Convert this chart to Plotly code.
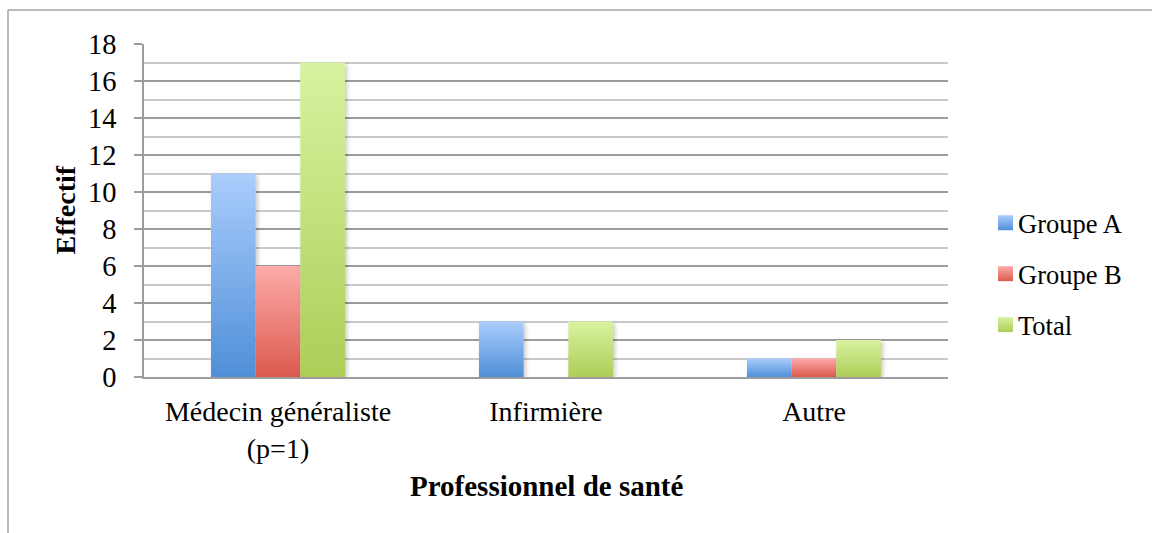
import plotly.graph_objects as go

# Data
categories = ["Médecin généraliste<br>(p=1)", "Infirmière", "Autre"]
series_names = ["Groupe A", "Groupe B", "Total"]
groupe_a = [11, 3, 1]
groupe_b = [6, 0, 1]
total = [17, 3, 2]
y_ticks = [0, 2, 4, 6, 8, 10, 12, 14, 16, 18]

# Styling: (top colour, bottom colour) of each series' vertical gradient
gradients = [("#aacdfc", "#4f8fd8"), ("#fdaba9", "#db5a4d"), ("#d9f2a0", "#aecd58")]
flat_colors = ["#7daeea", "#ee8479", "#c4e07c"]

FONT = "Liberation Serif"
W, H = 1152, 533
L, R, T, B = 144, 204, 44, 156
PW, PH = W - L - R, H - T - B


def px_x(x):
    return (x - L) / PW


def px_y(y):
    return (H - B - y) / PH


fig = go.Figure()
for name, vals, col in zip(series_names, [groupe_a, groupe_b, total], flat_colors):
    fig.add_trace(go.Bar(
        name=name, x=categories, y=vals,
        marker=dict(color=col, line=dict(width=0)),
        legendgroup=name,
    ))

frame = "#a3a3a3"
fig.update_layout(
    width=W, height=H,
    margin=dict(l=L, r=R, t=T, b=B, autoexpand=False),
    paper_bgcolor="white", plot_bgcolor="white",
    barmode="group", bargap=0.5, bargroupgap=0,
    font=dict(family=FONT, size=27, color="black"),
    showlegend=True,
    legend=dict(
        x=px_x(978), xanchor="left", y=px_y(199), yanchor="top",
        font=dict(family=FONT, size=26.5, color="black"),
        traceorder="grouped", tracegroupgap=13.5,
        bgcolor="rgba(0,0,0,0)", itemwidth=30,
    ),
    xaxis=dict(
        type="category", showgrid=False, showline=True, linecolor="#9c9c9c", linewidth=1.5,
        ticks="", tickfont=dict(family=FONT, size=28), ticklabelstandoff=9,
        range=[-0.5, 2.5], fixedrange=True,
    ),
    yaxis=dict(
        range=[0, 18], tickvals=y_ticks, showline=True, linecolor="#9c9c9c", linewidth=1.5,
        ticks="outside", ticklen=8, tickcolor="#9c9c9c", tickwidth=1.5,
        showgrid=True, gridcolor="#9c9c9c", gridwidth=1.5,
        minor=dict(dtick=1, showgrid=True, gridcolor="#c9c9c9", gridwidth=1.5, ticklen=0),
        tickfont=dict(family=FONT, size=28.5), ticklabelstandoff=12,
        zeroline=False, fixedrange=True,
    ),
    annotations=[
        dict(text="<b>Effectif</b>", x=px_x(65), y=0.5, xref="paper", yref="paper",
             textangle=-90, showarrow=False, font=dict(family=FONT, size=28),
             xanchor="center", yanchor="middle"),
        dict(text="<b>Professionnel de santé</b>", x=0.5, y=px_y(486), xref="paper", yref="paper",
             showarrow=False, font=dict(family=FONT, size=29),
             xanchor="center", yanchor="middle"),
    ],
    shapes=[
        dict(type="line", xref="paper", yref="paper", x0=px_x(8), x1=px_x(1160),
             y0=px_y(10), y1=px_y(10), line=dict(color=frame, width=1.5)),
        dict(type="line", xref="paper", yref="paper", x0=px_x(8), x1=px_x(8),
             y0=px_y(10), y1=px_y(545), line=dict(color=frame, width=1.5)),
    ],
)

stops_js = ",".join('["%s","%s"]' % g for g in gradients)
post_script = """
var gd = document.getElementById('{plot_id}');
var STOPS = [%s];
function paintBars(){
  var ns = 'http://www.w3.org/2000/svg';
  var svg = gd.querySelector('.main-svg');
  if (!svg) return;
  if (!document.getElementById('bargrad0')) {
    var defs = svg.querySelector('defs');
    if (!defs) { defs = document.createElementNS(ns, 'defs'); svg.insertBefore(defs, svg.firstChild); }
    STOPS.forEach(function(s, i){
      var lg = document.createElementNS(ns, 'linearGradient');
      lg.setAttribute('id', 'bargrad' + i);
      lg.setAttribute('x1', '0'); lg.setAttribute('y1', '0');
      lg.setAttribute('x2', '0'); lg.setAttribute('y2', '1');
      [[0, s[0]], [1, s[1]]].forEach(function(st){
        var e = document.createElementNS(ns, 'stop');
        e.setAttribute('offset', st[0]);
        e.setAttribute('stop-color', st[1]);
        lg.appendChild(e);
      });
      defs.appendChild(lg);
    });
    var f = document.createElementNS(ns, 'filter');
    f.setAttribute('id', 'barshadow');
    f.setAttribute('x', '-20%%'); f.setAttribute('y', '-20%%');
    f.setAttribute('width', '150%%'); f.setAttribute('height', '150%%');
    var ds = document.createElementNS(ns, 'feDropShadow');
    ds.setAttribute('dx', '2'); ds.setAttribute('dy', '2');
    ds.setAttribute('stdDeviation', '2');
    ds.setAttribute('flood-color', '#000'); ds.setAttribute('flood-opacity', '0.22');
    f.appendChild(ds);
    defs.appendChild(f);
  }
  gd.querySelectorAll('.barlayer .trace').forEach(function(tr, i){
    tr.querySelectorAll('path').forEach(function(p){
      p.style.fill = 'url(#bargrad' + i + ')';
      p.setAttribute('filter', 'url(#barshadow)');
    });
  });
  // legend swatches: 15px squares sitting just left of the label
  gd.querySelectorAll('.legend .traces').forEach(function(tr, i){
    tr.querySelectorAll('.legendpoints path').forEach(function(p){
      p.style.fill = 'url(#bargrad' + i + ')';
      p.setAttribute('d', 'M15,7.5H0V-7.5H15Z');
    });
  });
}
paintBars();
gd.on('plotly_afterplot', paintBars);
""" % stops_js

fig.write_html("out.html", post_script=post_script, config={"displayModeBar": False})
